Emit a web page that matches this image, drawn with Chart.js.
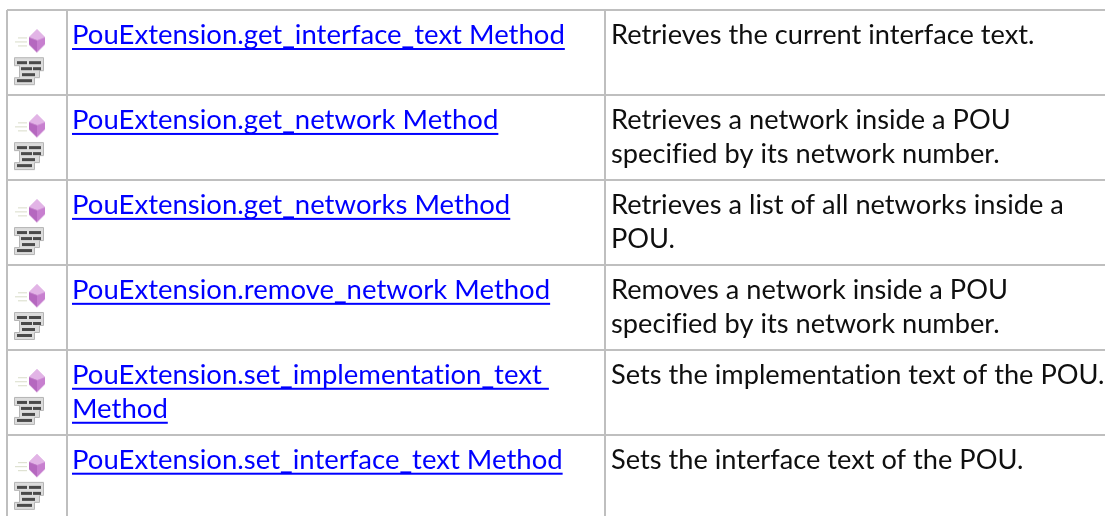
<!DOCTYPE html>
<html>
<head>
<meta charset="utf-8">
<style>
    html, body { margin: 0; padding: 0; background: #fff; overflow: hidden; }
    #wrap { width: 1105px; height: 516px; }
</style>
<script src="https://cdn.jsdelivr.net/npm/chart.js@4"></script>
</head>
<body>
<div id="wrap"><canvas id="methods"></canvas></div>
<script>
const methodNames = [
    ['PouExtension.get_interface_text Method'],
    ['PouExtension.get_network Method'],
    ['PouExtension.get_networks Method'],
    ['PouExtension.remove_network Method'],
    ['PouExtension.set_implementation_text ', 'Method'],
    ['PouExtension.set_interface_text Method']
];
const descriptions = [
    ['Retrieves the current interface text.'],
    ['Retrieves a network inside a POU', 'specified by its network number.'],
    ['Retrieves a list of all networks inside a', 'POU.'],
    ['Removes a network inside a POU', 'specified by its network number.'],
    ['Sets the implementation text of the POU.'],
    ['Sets the interface text of the POU.']
];
const rowIndex = [0, 1, 2, 3, 4, 5];
const columnEdges = [0, 60, 597.5];

const LINK_FONT = '27.5px Lato';
const DESC_FONT = '27.2px Lato';
const LINE_GAP = 34;

// little offscreen icons, used as point styles
function makeMethodIcon() {
    const c = document.createElement('canvas');
    c.width = 34; c.height = 28;
    const g = c.getContext('2d');
    g.filter = 'blur(0.5px)';
    g.strokeStyle = '#d8dcc8';
    g.lineWidth = 1;
    [[6, 10], [3, 14], [6, 18]].forEach(([x, y]) => {
        g.beginPath(); g.moveTo(x, y + .5); g.lineTo(15, y + .5); g.stroke();
    });
    g.fillStyle = '#c77fcf';
    g.beginPath(); g.moveTo(25, 2); g.lineTo(33, 10); g.lineTo(33, 17); g.lineTo(25, 25); g.lineTo(17, 17); g.lineTo(17, 10); g.closePath(); g.fill();
    g.fillStyle = '#e2b4e6';
    g.beginPath(); g.moveTo(25, 2); g.lineTo(33, 10); g.lineTo(25, 13); g.lineTo(17, 10); g.closePath(); g.fill();
    g.fillStyle = '#b568bf';
    g.beginPath(); g.moveTo(17, 10); g.lineTo(25, 13); g.lineTo(25, 25); g.lineTo(17, 17); g.closePath(); g.fill();
    return c;
}

function makeBrickIcon() {
    const c = document.createElement('canvas');
    c.width = 32; c.height = 30;
    const g = c.getContext('2d');
    g.filter = 'blur(0.4px)';
    g.fillStyle = '#dcdcdc';
    g.strokeStyle = '#b5b5b5';
    g.beginPath();
    g.moveTo(1.5, 1.5); g.lineTo(30.5, 1.5); g.lineTo(30.5, 14.5); g.lineTo(26.5, 14.5); g.lineTo(26.5, 21.5);
    g.lineTo(21.5, 21.5); g.lineTo(21.5, 28.5); g.lineTo(1.5, 28.5); g.lineTo(1.5, 21.5); g.lineTo(6.5, 21.5);
    g.lineTo(6.5, 9.5); g.lineTo(1.5, 9.5); g.closePath();
    g.fill(); g.stroke();
    g.fillStyle = '#4a4a4a';
    [[4, 5, 10], [16, 5, 12], [8, 11, 11], [20, 11, 8], [9, 17, 13], [4, 23, 15]].forEach(([x, y, w]) => {
        g.fillRect(x, y, w, 3);
    });
    return c;
}

// table text is drawn at the row / column positions of the scales
const tableText = {
    id: 'tableText',
    afterDraw(chart) {
        const { ctx, scales: { x, y } } = chart;
        ctx.save();
        ctx.textBaseline = 'alphabetic';
        // any spacing at all turns the Lato "ti" ligature off
        ctx.letterSpacing = '0.01px';
        rowIndex.forEach(i => {
            const top = y.getPixelForValue(i);
            ctx.font = LINK_FONT;
            methodNames[i].forEach((line, n) => {
                const px = x.getPixelForValue(columnEdges[1]) + 5;
                const py = top + 34 + n * LINE_GAP;
                ctx.fillStyle = '#0000ff';
                ctx.fillText(line, px, py);
                ctx.fillRect(px, py + 4, ctx.measureText(line).width, 2);
            });
            ctx.font = DESC_FONT;
            descriptions[i].forEach((line, n) => {
                ctx.fillStyle = '#0f0f0f';
                ctx.fillText(line, x.getPixelForValue(columnEdges[2]) + 6.5, top + 34 + n * LINE_GAP);
            });
        });
        ctx.restore();
    }
};

new Chart(document.getElementById('methods').getContext('2d'), {
    type: 'scatter',
    data: {
        datasets: [
            {
                label: 'Method',
                data: rowIndex.map(i => ({ x: 22, y: i + 0.37 })),
                pointStyle: makeMethodIcon()
            },
            {
                label: 'Network',
                data: rowIndex.map(i => ({ x: 22, y: i + 0.72 })),
                pointStyle: makeBrickIcon()
            }
        ]
    },
    options: {
        responsive: true,
        maintainAspectRatio: false,
        animation: false,
        layout: { autoPadding: false, padding: { left: 7, top: 10, right: 0, bottom: 0 } },
        plugins: {
            legend: { display: false },
            tooltip: { enabled: false }
        },
        scales: {
            x: {
                type: 'linear',
                min: 0,
                max: 1098,
                afterBuildTicks: axis => { axis.ticks = columnEdges.map(v => ({ value: v })); },
                ticks: { display: false },
                border: { display: false },
                grid: { color: '#bfbfbf', lineWidth: 2, drawTicks: false }
            },
            y: {
                type: 'linear',
                reverse: true,
                min: 0,
                max: 5.957,
                afterBuildTicks: axis => { axis.ticks = rowIndex.map(v => ({ value: v })); },
                ticks: { display: false },
                border: { display: false },
                grid: { color: '#bfbfbf', lineWidth: 2, drawTicks: false }
            }
        }
    },
    plugins: [tableText]
});
</script>
</body>
</html>
